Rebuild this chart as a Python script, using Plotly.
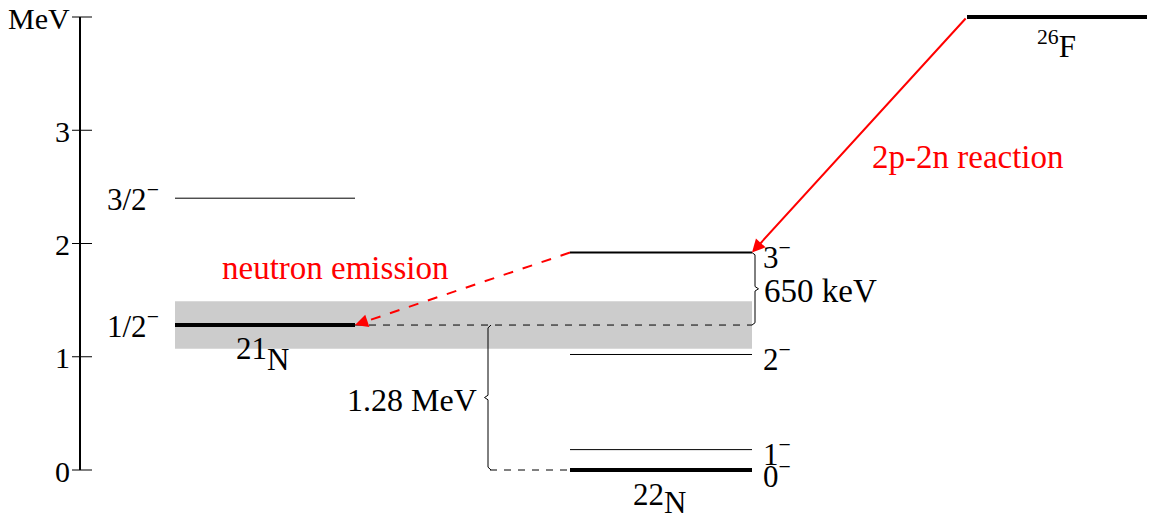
import plotly.graph_objects as go

# ---- data (energies in MeV) ----
n21_energies = [1.28, 2.40]
n21_labels = ["1/2<sup>−</sup>", "3/2<sup>−</sup>"]
n21_widths = [4, 1]

n22_energies = [0.0, 0.18, 1.02, 1.92]
n22_labels = ["0<sup>−</sup>", "1<sup>−</sup>", "2<sup>−</sup>", "3<sup>−</sup>"]
n22_widths = [4, 1, 1, 2]

f26_energy = 4.0
band_low, band_high = 1.07, 1.49
axis_ticks = [0, 1, 2, 3, 4]
axis_ticktext = ["0", "1", "2", "3", "MeV"]
gap_text = "1.28 MeV"
gap2_text = "650 keV"

# ---- layout constants (horizontal columns in pixel-like units) ----
W, H = 1149, 516
AX_X = 80
C21 = (175, 355)
C22 = (570, 752)
C26 = (967, 1147)
PX_PER_MEV = 113.25
Y_ZERO_PX = 470
FONT = "Liberation Serif, Times New Roman, serif"
FS = 30
FS_LVL = 31
FS_WORD = 33
RED = "#ff0000"

ymin = -(H - Y_ZERO_PX) / PX_PER_MEV
ymax = Y_ZERO_PX / PX_PER_MEV

fig = go.Figure()

def line(xs, ys, color="black", width=1, dash=None):
    fig.add_trace(go.Scatter(x=xs, y=ys, mode="lines", hoverinfo="skip",
                             line=dict(color=color, width=width, dash=dash),
                             showlegend=False, cliponaxis=False))

def text(x, y, s, xanchor="center", yanchor="middle", color="black", size=FS, yshift=0, xshift=0):
    fig.add_annotation(x=x, y=y, text=s, showarrow=False, xanchor=xanchor, yanchor=yanchor,
                       yshift=yshift, xshift=xshift,
                       font=dict(family=FONT, size=size, color=color))

# gray band
fig.add_shape(type="rect", x0=C21[0], x1=C22[1], y0=band_low, y1=band_high,
              fillcolor="#cccccc", line=dict(width=0), layer="below")

# axis
line([AX_X, AX_X], [axis_ticks[0], axis_ticks[-1]], width=2)
for t, lab in zip(axis_ticks, axis_ticktext):
    line([AX_X - 8, AX_X + 12], [t, t], width=1)
    text(AX_X - 8, t, lab, xanchor="right", yshift=-1)

# 21N levels
for e, lab, w in zip(n21_energies, n21_labels, n21_widths):
    line([C21[0], C21[1]], [e, e], width=w)
    text(C21[0] - 14, e, lab, xanchor="right", yshift=1, size=FS_LVL)
text(251, n21_energies[0], "21", yshift=-23, size=FS_LVL)
text(278, n21_energies[0], "N", yshift=-34, size=FS_LVL)

# 22N levels
for e, lab, w in zip(n22_energies, n22_labels, n22_widths):
    line([C22[0], C22[1]], [e, e], width=w)
    text(C22[1] + 9, e, lab, xanchor="left", yshift=-3 if e > 0.1 else -4, size=FS_LVL)
text(648, n22_energies[0], "22", yshift=-24, size=FS_LVL)
text(675, n22_energies[0], "N", yshift=-32, size=FS_LVL)

# 26F level
line([C26[0], C26[1]], [f26_energy, f26_energy], width=4)
text(1056, f26_energy, "<sup>26</sup>F", yshift=-27, size=FS_LVL)

# dashed reference lines
g = n21_energies[0]
line([C21[1], C22[1]], [g, g], width=1, dash="7px,7px")
line([490, C22[0]], [0, 0], width=1, dash="7px,7px")

# brace 1.28 MeV
bx = 488
m = g / 2
line([bx + 3, bx, bx, bx - 3.5, bx, bx, bx + 3],
     [g, g - 0.025, m + 0.02, m, m - 0.02, 0.025, 0], width=1)
text(bx - 9, m, gap_text, xanchor="right", yshift=-2, size=32)

# brace 650 keV
top = n22_energies[3]
bx2 = 755
m2 = (g + top) / 2
line([C22[1], bx2, bx2, bx2 + 3.5, bx2, bx2, C22[1]],
     [top, top - 0.02, m2 + 0.02, m2, m2 - 0.02, g + 0.02, g], width=1)
text(bx2 + 7, m2, gap2_text, xanchor="left", yshift=-2, size=FS_WORD)

# 2p-2n reaction arrow
fig.add_annotation(x=C22[1], y=top, ax=C26[0], ay=f26_energy, axref="x", ayref="y",
                   xref="x", yref="y", showarrow=True, arrowhead=2, arrowsize=1.3,
                   arrowwidth=2, arrowcolor=RED, text="", standoff=0)
text(968, 2.76, "2p-2n reaction", color=RED, size=FS_WORD)

# neutron emission dashed arrow
hx, hy = C21[1], g
tx, ty = C22[0], top
f = 0.06
line([tx, hx + (tx - hx) * f], [ty, hy + (ty - hy) * f], color=RED, width=2, dash="10px,10px")
fig.add_annotation(x=hx, y=hy, ax=hx + (tx - hx) * f, ay=hy + (ty - hy) * f,
                   axref="x", ayref="y", xref="x", yref="y", showarrow=True,
                   arrowhead=2, arrowsize=1.3, arrowwidth=2, arrowcolor=RED, text="", standoff=0)
text(335, 1.78, "neutron emission", color=RED, size=FS_WORD)

fig.update_layout(
    width=W, height=H, margin=dict(l=0, r=0, t=0, b=0),
    paper_bgcolor="white", plot_bgcolor="white",
    font=dict(family=FONT, size=FS),
    xaxis=dict(range=[0, W], visible=False, fixedrange=True),
    yaxis=dict(range=[ymin, ymax], visible=False, fixedrange=True),
    showlegend=False,
)

fig.write_html("out.html")
